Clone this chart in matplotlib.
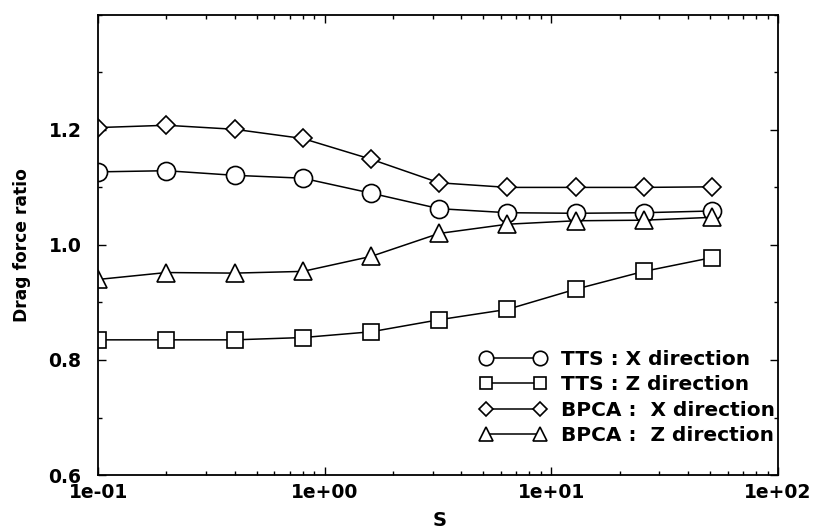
import numpy as np
import matplotlib.pyplot as plt
from matplotlib.ticker import LogLocator, MultipleLocator, FixedLocator, NullFormatter

plt.rcParams['font.family'] = ['DejaVu Sans']

s = [0.1, 0.2, 0.4, 0.8, 1.6, 3.2, 6.4, 12.8, 25.6, 51.2]
tts_x = [1.127, 1.129, 1.121, 1.116, 1.090, 1.063, 1.056, 1.055, 1.056, 1.059]
tts_z = [0.835, 0.835, 0.835, 0.839, 0.849, 0.870, 0.888, 0.923, 0.954, 0.978]
bpca_x = [1.204, 1.208, 1.201, 1.185, 1.149, 1.108, 1.100, 1.100, 1.100, 1.101]
bpca_z = [0.940, 0.952, 0.951, 0.954, 0.980, 1.020, 1.036, 1.042, 1.043, 1.048]
labels = ["TTS : X direction", "TTS : Z direction",
          "BPCA :  X direction", "BPCA :  Z direction"]

fig = plt.figure(figsize=(8.18, 5.29), dpi=100)
ax = fig.add_axes([0.12, 0.102, 0.831, 0.870])

kw = dict(color='black', markerfacecolor='white', markeredgecolor='black',
          linewidth=1.1, markeredgewidth=1.2)
ax.plot(s, tts_x, marker='o', markersize=13, label=labels[0], **kw)
ax.plot(s, tts_z, marker='s', markersize=11, label=labels[1], **kw)
ax.plot(s, bpca_x, marker='D', markersize=9, label=labels[2], **kw)
ax.plot(s, bpca_z, marker='^', markersize=13, label=labels[3], **kw)

ax.set_xscale('log')
ax.set_xlim(0.1, 100)
ax.set_ylim(0.6, 1.4)
ax.set_xticks([0.1, 1, 10, 100])
ax.set_xticklabels(['1e-01', '1e+00', '1e+01', '1e+02'])
ax.xaxis.set_minor_locator(LogLocator(base=10, subs=np.arange(2, 10)))
ax.xaxis.set_minor_formatter(NullFormatter())
ax.yaxis.set_major_locator(FixedLocator([0.6, 0.8, 1.0, 1.2]))
ax.set_yticklabels(['0.6', '0.8', '1.0', '1.2'])
ax.yaxis.set_minor_locator(MultipleLocator(0.1))

ax.tick_params(which='both', direction='in', top=True, right=True, labelsize=13.5, width=1.0)
ax.tick_params(which='major', length=6)
ax.tick_params(which='minor', length=3)
ax.tick_params(axis='x', pad=6)
ax.tick_params(axis='y', pad=12)
for lab in ax.get_xticklabels() + ax.get_yticklabels():
    lab.set_fontweight('bold')
for sp in ax.spines.values():
    sp.set_linewidth(1.3)

fig.text(0.027, 0.537, 'Drag force ratio', fontsize=12.3, fontweight='bold',
         rotation=90, ha='center', va='center')
fig.text(0.537, 0.017, 'S', fontsize=14, fontweight='bold', ha='center', va='center')

leg = ax.legend(loc='upper left', bbox_to_anchor=(480 / 818, 1 - 350 / 529),
                bbox_transform=fig.transFigure, frameon=False, numpoints=2,
                markerscale=0.8, handlelength=3.3, handletextpad=0.7, labelspacing=0.32,
                prop={'size': 14.5, 'weight': 'bold'}, borderpad=0.0, borderaxespad=0.0)

plt.savefig('out.png', dpi=100)
